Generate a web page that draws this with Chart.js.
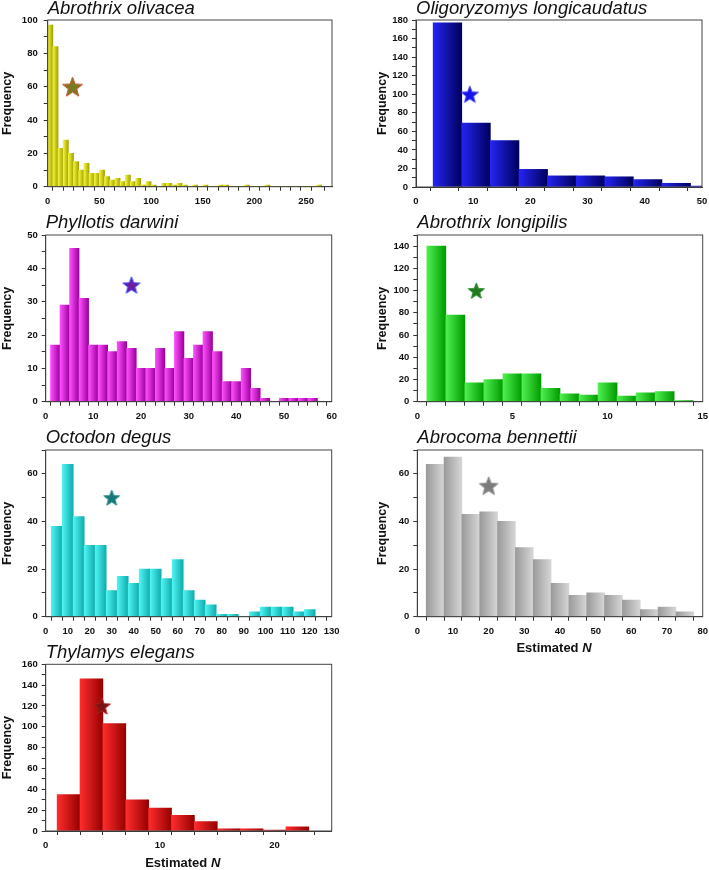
<!DOCTYPE html>
<html>
<head>
<meta charset="utf-8">
<script src="https://cdn.jsdelivr.net/npm/chart.js@4"></script>
<style>
  body { margin: 0; background: #fff; width: 709px; height: 870px; position: relative; overflow: hidden; }
  canvas { position: absolute; }
</style>
</head>
<body>
<canvas id="c1"></canvas>
<canvas id="c2"></canvas>
<canvas id="c3"></canvas>
<canvas id="c4"></canvas>
<canvas id="c5"></canvas>
<canvas id="c6"></canvas>
<canvas id="c7"></canvas>
<script>
// bin centres and counts
const olivaceaBins = [2.5, 7.5, 12.5, 17.5, 22.5, 27.5, 32.5, 37.5, 42.5, 47.5, 52.5, 57.5, 62.5, 67.5, 72.5, 77.5, 82.5, 87.5, 92.5, 97.5,
  102.5, 107.5, 112.5, 117.5, 122.5, 127.5, 132.5, 137.5, 142.5, 147.5, 152.5, 157.5, 162.5, 167.5, 172.5, 177.5, 182.5, 187.5, 192.5, 197.5,
  202.5, 207.5, 212.5, 217.5, 222.5, 227.5, 232.5, 237.5, 242.5, 247.5, 252.5, 257.5, 262.5];
const olivaceaFreq = [97, 84, 23, 28, 20, 15, 10, 14, 8, 8, 10, 6, 4, 5, 3, 7, 3, 5, 1, 3,
  1, 0, 2, 2, 1, 2, 1, 0, 1, 0, 1, 0, 0, 1, 1, 0, 0, 0, 1, 0,
  0, 0, 1, 0, 0, 0, 0, 0, 0, 0, 0, 0, 1];

const longicaudatusBins = [5.5, 10.5, 15.5, 20.5, 25.5, 30.5, 35.5, 40.5, 45.5, 50.5];
const longicaudatusFreq = [177, 69, 50, 19, 12, 12, 11, 8, 4, 1];

const darwiniBins = [2, 4, 6, 8, 10, 12, 14, 16, 18, 20, 22, 24, 26, 28, 30, 32, 34, 36, 38, 40, 42, 44, 46, 48, 50, 52, 54, 56];
const darwiniFreq = [17, 29, 46, 31, 17, 17, 15, 18, 16, 10, 10, 16, 10, 21, 13, 17, 21, 15, 6, 6, 10, 4, 1, 0, 1, 1, 1, 1];

const longipilisBins = [1, 2, 3, 4, 5, 6, 7, 8, 9, 10, 11, 12, 13, 14];
const longipilisFreq = [140, 78, 17, 20, 25, 25, 12, 7, 6, 17, 5, 8, 9, 1];

const degusBins = [5, 10, 15, 20, 25, 30, 35, 40, 45, 50, 55, 60, 65, 70, 75, 80, 85, 90, 95, 100, 105, 110, 115, 120];
const degusFreq = [38, 64, 42, 30, 30, 11, 17, 14, 20, 20, 16, 24, 11, 7, 5, 1, 1, 0, 2, 4, 4, 4, 2, 3];

const bennettiiBins = [5, 10, 15, 20, 25, 30, 35, 40, 45, 50, 55, 60, 65, 70, 75];
const bennettiiFreq = [64, 67, 43, 44, 40, 29, 24, 14, 9, 10, 9, 7, 3, 4, 2];

const elegansBins = [2, 4, 6, 8, 10, 12, 14, 16, 18, 20, 22];
const elegansFreq = [35, 146, 103, 30, 22, 15, 9, 2, 2, 1, 4];

// star markers (point estimate of each species)
const starX = [24, 9.4, 18, 3.1, 30, 20, 4.9];
const starY = [60, 100, 35, 100, 50, 55, 120];

const FONT = "'Liberation Sans', Arial, Helvetica, sans-serif";

function starImage(r, fill, stroke) {
  const cv = document.createElement('canvas');
  const size = Math.ceil(r * 2 + 4);
  cv.width = cv.height = size;
  const g = cv.getContext('2d');
  g.translate(size / 2, size / 2 + 0.095 * r);
  g.beginPath();
  for (let i = 0; i < 10; i++) {
    const rad = i % 2 === 0 ? r : r * 0.42;
    const a = -Math.PI / 2 + i * Math.PI / 5;
    g.lineTo(rad * Math.cos(a), rad * Math.sin(a));
  }
  g.closePath();
  g.fillStyle = fill;
  g.fill();
  g.lineWidth = 1;
  g.strokeStyle = stroke;
  g.stroke();
  return cv;
}

const panels = [
  { id: 'c1', title: 'Abrothrix olivacea', bins: olivaceaBins, freq: olivaceaFreq,
    canvas: [0, 0, 340, 208], plot: [47.7, 20, 332, 186.7], yPad: 6,
    x: { max: 275, step: 10, major: 50 }, y: { max: 100, step: 10, major: 20 },
    colors: ['#f4f43c', '#a3a300'], star: [10.5, '#7a7a22', '#c4502c'] },
  { id: 'c2', title: 'Oligoryzomys longicaudatus', bins: longicaudatusBins, freq: longicaudatusFreq,
    canvas: [375, 0, 334, 208], plot: [416, 20, 702, 187], yPad: 4,
    x: { max: 50, step: 5, major: 10 }, y: { max: 180, step: 10, major: 20 },
    colors: ['#2424f4', '#00005c'], star: [9, '#1414e6', '#3a3aff'] },
  { id: 'c3', title: 'Phyllotis darwini', bins: darwiniBins, freq: darwiniFreq,
    canvas: [0, 214, 340, 208], plot: [45.7, 235, 331.7, 401.7], yPad: 4,
    x: { max: 60, step: 2, major: 10 }, y: { max: 50, step: 5, major: 10 },
    colors: ['#ff50ff', '#9c009c'], star: [9, '#6c1c9c', '#3344ff'] },
  { id: 'c4', title: 'Abrothrix longipilis', bins: longipilisBins, freq: longipilisFreq,
    canvas: [375, 214, 334, 208], plot: [417.3, 235, 702.7, 401.7], yPad: 4,
    x: { max: 15, step: 1, major: 5 }, y: { max: 150, step: 10, major: 20 },
    colors: ['#50f050', '#009a00'], star: [8.5, '#1f7a1f', '#2a8a2a'] },
  { id: 'c5', title: 'Octodon degus', bins: degusBins, freq: degusFreq,
    canvas: [0, 429, 340, 210], plot: [45.7, 450, 331.7, 616.7], yPad: 4,
    x: { max: 130, step: 5, major: 10 }, y: { max: 70, step: 10, major: 20 },
    colors: ['#50f4f4', '#10acac'], star: [8.3, '#187878', '#208888'] },
  { id: 'c6', title: 'Abrocoma bennettii', bins: bennettiiBins, freq: bennettiiFreq,
    canvas: [375, 429, 334, 228], plot: [417.3, 450, 702.7, 616.7], yPad: 4, xTitle: true,
    x: { max: 80, step: 5, major: 10 }, y: { max: 70, step: 10, major: 20 },
    colors: ['#9a9a9a', '#d6d6d6'], star: [9.8, '#7c7c7c', '#8a8a8a'] },
  { id: 'c7', title: 'Thylamys elegans', bins: elegansBins, freq: elegansFreq,
    canvas: [0, 644, 340, 226], plot: [45.7, 664.3, 331.7, 831], yPad: 4, xTitle: true,
    x: { max: 25, step: 2, major: 10 }, y: { max: 160, step: 10, major: 20 },
    colors: ['#ff2c2c', '#960000'], star: [9, '#7a1414', '#b02020'] }
];

const framePlugin = {
  id: 'frame',
  afterDraw(chart) {
    const { ctx, chartArea: a } = chart;
    ctx.save();
    ctx.strokeStyle = '#444';
    ctx.lineWidth = 1;
    ctx.strokeRect(a.left, a.top, a.right - a.left, a.bottom - a.top);
    ctx.restore();
  }
};

// "Estimated N" with an italic N, drawn under the x axis
const xTitlePlugin = {
  id: 'xtitle',
  afterDraw(chart, args, opts) {
    if (!opts.show) return;
    const { ctx, chartArea: a } = chart;
    const first = 'Estimated ', second = 'N';
    ctx.save();
    ctx.fillStyle = '#111';
    ctx.textBaseline = 'middle';
    ctx.font = 'bold 13px ' + FONT;
    const w1 = ctx.measureText(first).width;
    ctx.font = 'italic bold 13px ' + FONT;
    const w2 = ctx.measureText(second).width;
    const x0 = (a.left + a.right) / 2 - 6 - (w1 + w2) / 2;
    const y = a.bottom + 32;
    ctx.font = 'bold 13px ' + FONT;
    ctx.fillText(first, x0, y);
    ctx.font = 'italic bold 13px ' + FONT;
    ctx.fillText(second, x0 + w1, y);
    ctx.restore();
  }
};

panels.forEach((s, i) => {
  const [cx, cy, cw, ch] = s.canvas;
  const [pl, pt, pr, pb] = s.plot;
  const el = document.getElementById(s.id);
  el.width = cw;
  el.height = ch;
  el.style.left = cx + 'px';
  el.style.top = cy + 'px';

  const yw = pl - cx;
  const rightPad = cx + cw - pr;
  const titlePad = pt - cy - 18;
  const xh = cy + ch - pb;
  const binW = s.bins[1] - s.bins[0];

  new Chart(el, {
    type: 'bar',
    data: {
      datasets: [
        {
          type: 'scatter',
          data: [{ x: starX[i], y: starY[i] }],
          pointStyle: starImage(s.star[0], s.star[1], s.star[2]),
          order: 1
        },
        {
          data: s.bins.map((b, k) => ({ x: b, y: s.freq[k] })),
          barPercentage: 1,
          categoryPercentage: 1,
          borderWidth: 0,
          order: 2,
          backgroundColor: (c) => {
            const chart = c.chart;
            if (c.type !== 'data' || !chart.chartArea || !c.raw) return s.colors[1];
            const xs = chart.scales.x;
            const l = xs.getPixelForValue(c.raw.x - binW / 2);
            const r = xs.getPixelForValue(c.raw.x + binW / 2);
            const g = chart.ctx.createLinearGradient(l, 0, r, 0);
            g.addColorStop(0, s.colors[0]);
            g.addColorStop(1, s.colors[1]);
            return g;
          }
        }
      ]
    },
    options: {
      responsive: false,
      animation: false,
      layout: { padding: { top: 0, left: 0, right: rightPad, bottom: 0 } },
      plugins: {
        legend: { display: false },
        tooltip: { enabled: false },
        title: {
          display: true, text: s.title, align: 'start', fullSize: false, color: '#111',
          font: { family: FONT, size: 18.5, style: 'italic', weight: 'normal', lineHeight: 1 },
          padding: { top: 0, bottom: titlePad - 0.5 }
        },
        xtitle: { show: !!s.xTitle }
      },
      scales: {
        x: {
          type: 'linear', min: 0, max: s.x.max, offset: false,
          grid: { drawOnChartArea: false, drawTicks: true, tickLength: 4, color: '#333' },
          border: { color: '#333', width: 1 },
          ticks: {
            stepSize: s.x.step, autoSkip: false, maxRotation: 0, padding: 5, color: '#111',
            font: { family: FONT, size: 9.5, weight: 'bold' },
            callback: (v) => (v % s.x.major === 0 ? v : '')
          },
          afterFit: (sc) => { sc.height = xh; sc.paddingLeft = 0; sc.paddingRight = 0; }
        },
        y: {
          min: 0, max: s.y.max,
          grid: { drawOnChartArea: false, drawTicks: true, tickLength: 4, color: '#333' },
          border: { color: '#333', width: 1 },
          ticks: {
            stepSize: s.y.step, autoSkip: false, padding: s.yPad, color: '#111',
            font: { family: FONT, size: 9.5, weight: 'bold' },
            callback: (v) => (v % s.y.major === 0 ? v : '')
          },
          title: {
            display: true, text: 'Frequency', color: '#111', padding: 0,
            font: { family: FONT, size: 12.5, weight: 'bold' }
          },
          afterFit: (sc) => { sc.width = yw; sc.paddingTop = 0; sc.paddingBottom = 0; }
        }
      }
    },
    plugins: [framePlugin, xTitlePlugin]
  });
});
</script>
</body>
</html>
